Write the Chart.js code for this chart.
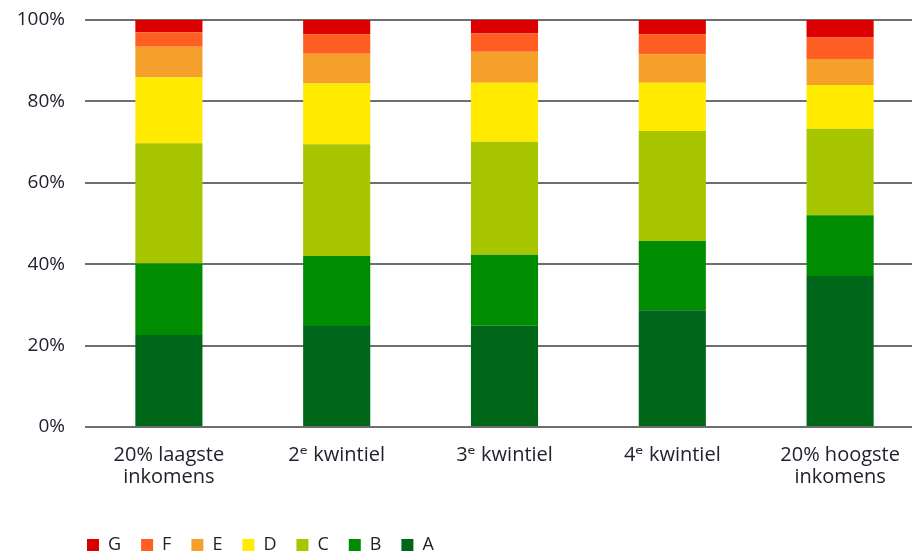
<!DOCTYPE html>
<html>
<head>
<meta charset="utf-8">
<script src="https://cdn.jsdelivr.net/npm/chart.js@4/dist/chart.umd.min.js"></script>
<style>
  html, body { margin: 0; padding: 0; background: #ffffff; overflow: hidden; }
  #wrap { width: 924px; height: 554px; }
</style>
</head>
<body>
<div id="wrap"><canvas id="c" width="924" height="554"></canvas></div>
<script>
// Income groups (x axis)
const categories = [
  ['20% laagste', 'inkomens'],
  ['2ᵉ kwintiel'],
  ['3ᵉ kwintiel'],
  ['4ᵉ kwintiel'],
  ['20% hoogste', 'inkomens']
];

// Share of each energy label per income group (%)
const labelA = [22.6, 24.8, 24.9, 28.7, 37.1];
const labelB = [17.6, 17.2, 17.4, 17.0, 14.9];
const labelC = [29.5, 27.5, 27.8, 27.0, 21.3];
const labelD = [16.2, 14.9, 14.5, 11.9, 10.7];
const labelE = [7.5, 7.3, 7.6, 7.0, 6.4];
const labelF = [3.6, 4.8, 4.5, 4.9, 5.3];
const labelG = [3.0, 3.5, 3.3, 3.5, 4.3];

const yTicks = [0, 20, 40, 60, 80, 100];

const textColor = '#22222e';
const fontFamily = '"Open Sans", "DejaVu Sans", sans-serif';

const series = [
  { label: 'A', data: labelA, color: '#006619' },
  { label: 'B', data: labelB, color: '#008c00' },
  { label: 'C', data: labelC, color: '#a8c600' },
  { label: 'D', data: labelD, color: '#ffea00' },
  { label: 'E', data: labelE, color: '#f5a02a' },
  { label: 'F', data: labelF, color: '#ff5e22' },
  { label: 'G', data: labelG, color: '#dd0000' }
];

// Puts the legend row under the plot, starting at the plot's left edge
const legendPlacement = {
  id: 'legendPlacement',
  afterLayout(chart) {
    const lg = chart.legend;
    const pad = lg.options.labels.padding;
    const itemH = Math.max(lg.options.labels.font.size, lg.options.labels.boxHeight);
    lg.left = chart.chartArea.left + 2 - pad;
    lg.top = chart.height - 9 - pad - itemH / 2;
  }
};

new Chart(document.getElementById('c'), {
  type: 'bar',
  data: {
    labels: categories,
    datasets: series.map(s => ({
      label: s.label,
      data: s.data,
      backgroundColor: s.color,
      borderWidth: 0,
      barPercentage: 0.8,
      categoryPercentage: 0.5
    }))
  },
  options: {
    responsive: false,
    animation: false,
    layout: { padding: { top: 20, left: 8, right: 0, bottom: 0 } },
    scales: {
      x: {
        stacked: true,
        grid: { display: false, drawTicks: false },
        border: { display: false },
        ticks: {
          color: textColor,
          font: { family: fontFamily, size: 20, lineHeight: 1.1 },
          padding: 17,
          maxRotation: 0,
          autoSkip: false
        },
        afterFit(scale) { scale.height = 79; }
      },
      y: {
        stacked: true,
        min: 0,
        max: 100,
        afterBuildTicks(scale) { scale.ticks = yTicks.map(v => ({ value: v })); },
        grid: { color: '#6e6e6e', lineWidth: 2, drawTicks: false },
        border: { display: false },
        ticks: {
          color: textColor,
          font: { family: fontFamily, size: 19 },
          padding: 20,
          callback: v => v + '%'
        },
        afterFit(scale) {
          scale.width = 77;
          scale.paddingTop = 0;
          scale.paddingBottom = 0;
        }
      }
    },
    plugins: {
      legend: {
        position: 'bottom',
        align: 'start',
        reverse: true,
        labels: {
          color: textColor,
          font: { family: fontFamily, size: 18 },
          boxWidth: 12,
          boxHeight: 12,
          padding: 20
        }
      },
      tooltip: { enabled: false }
    }
  },
  plugins: [legendPlacement]
});
</script>
</body>
</html>
